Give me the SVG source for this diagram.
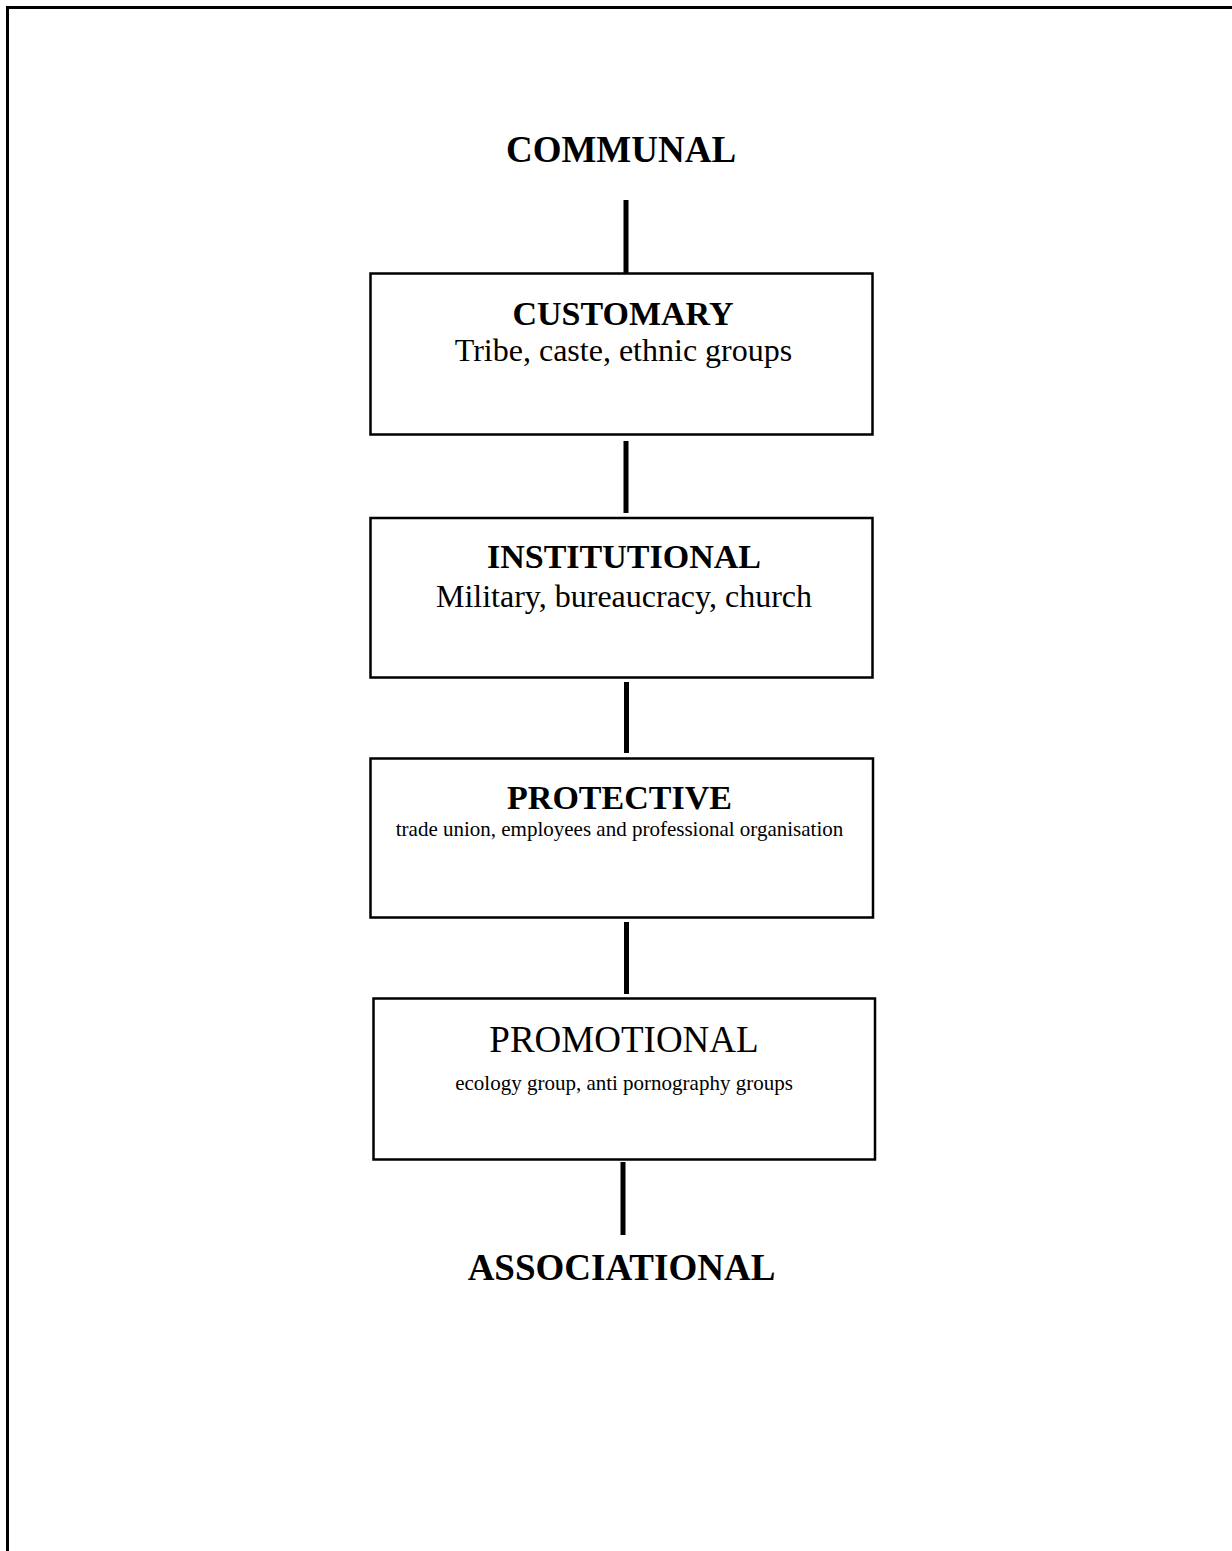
<svg xmlns="http://www.w3.org/2000/svg" width="1232" height="1551" viewBox="0 0 1232 1551">
<style>
.frame{fill:none;stroke:#000;stroke-width:3}
.box{fill:#fff;stroke:#000;stroke-width:2.5}
.conn{stroke:#000;stroke-width:5;fill:none}
text{font-family:"Liberation Serif","Times New Roman",serif;fill:#000;text-anchor:middle}
.end{font-size:37px;font-weight:bold}
.title{font-size:34px;font-weight:bold}
.ptitle{font-size:37px}
.sub{font-size:32px}
.small{font-size:21px}
</style>
<rect width="1232" height="1551" fill="#fff"/>
<path class="frame" d="M7.5,1560 V7.5 H1240"/>
<g id="connectors">
<line class="conn" x1="626" y1="200" x2="626" y2="273"/>
<line class="conn" x1="626" y1="441" x2="626" y2="513"/>
<line class="conn" x1="626.5" y1="682" x2="626.5" y2="753"/>
<line class="conn" x1="626.5" y1="922" x2="626.5" y2="994"/>
<line class="conn" x1="623" y1="1162" x2="623" y2="1235"/>
</g>
<g id="communal"><text class="end" x="621" y="162">COMMUNAL</text></g>
<g id="customary">
<rect class="box" x="370.5" y="273.5" width="502" height="161"/>
<text class="title" x="623" y="325">CUSTOMARY</text>
<text class="sub" x="623.5" y="361">Tribe, caste, ethnic groups</text>
</g>
<g id="institutional">
<rect class="box" x="370.5" y="518" width="502" height="159.5"/>
<text class="title" x="624" y="568">INSTITUTIONAL</text>
<text class="sub" x="624" y="607">Military, bureaucracy, church</text>
</g>
<g id="protective">
<rect class="box" x="370.5" y="758.5" width="502.5" height="159"/>
<text class="title" x="619.5" y="809">PROTECTIVE</text>
<text class="small" x="619.5" y="836">trade union, employees and professional organisation</text>
</g>
<g id="promotional">
<rect class="box" x="373.5" y="998.5" width="501.5" height="161"/>
<text class="ptitle" x="624" y="1052">PROMOTIONAL</text>
<text class="small" x="624" y="1090">ecology group, anti pornography groups</text>
</g>
<g id="associational"><text class="end" x="621.5" y="1280">ASSOCIATIONAL</text></g>
</svg>
